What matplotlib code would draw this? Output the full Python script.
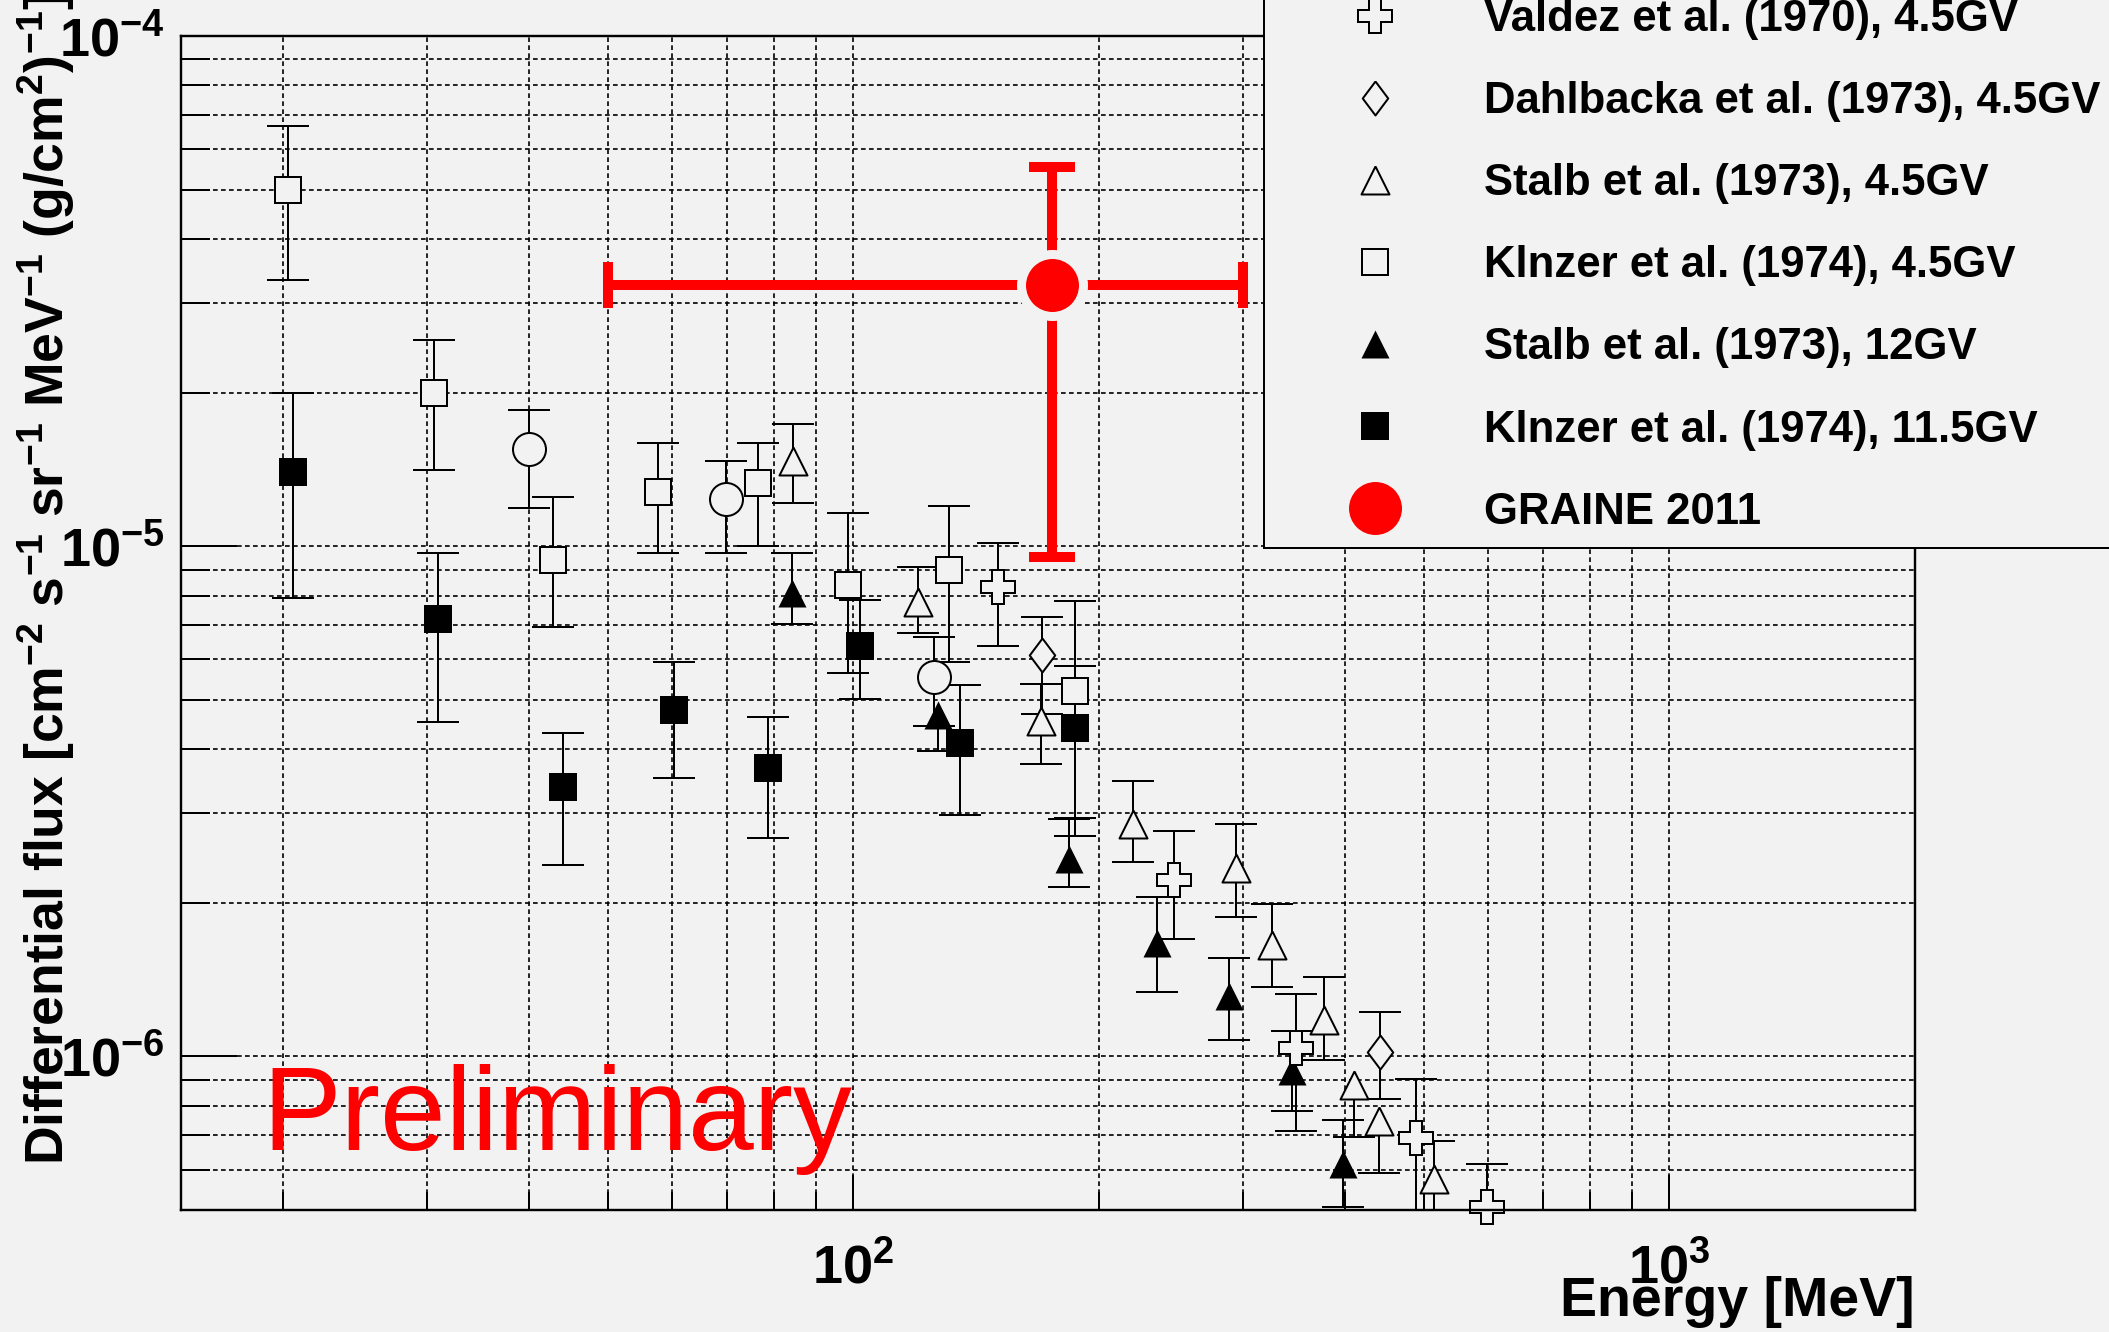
import numpy as np
import matplotlib
matplotlib.use("Agg")
import matplotlib.pyplot as plt
from matplotlib.markers import MarkerStyle
from matplotlib.ticker import LogLocator, LogFormatterSciNotation, NullFormatter

# ---------------------------------------------------------------- data
# energies in MeV, fluxes in cm^-2 s^-1 sr^-1 MeV^-1 (g/cm^2)^-1
# each series: central value, upper and lower end of the error bar

valdez_E = [150.6, 247.4, 348.5, 489.8, 598.3]
valdez_F = [8.31e-6, 2.22e-6, 1.04e-6, 6.91e-7, 5.07e-7]
valdez_hi = [1.014e-5, 2.76e-6, 1.323e-6, 9.04e-7, 6.14e-7]
valdez_lo = [6.37e-6, 1.696e-6, 7.13e-7, 4.0e-7, 4.0e-7]

dahl_E = [170.4, 442.1]
dahl_F = [6.11e-6, 1.02e-6]
dahl_hi = [7.25e-6, 1.22e-6]
dahl_lo = [4.70e-6, 8.26e-7]

stalb45_E = [84.4, 120.0, 170.0, 220.4, 294.8, 326.2, 377.7, 411.1, 441.2, 515.2]
stalb45_F = [1.468e-5, 7.78e-6, 4.54e-6, 2.86e-6, 2.34e-6, 1.65e-6, 1.177e-6,
             8.77e-7, 7.46e-7, 5.76e-7]
stalb45_hi = [1.735e-5, 9.10e-6, 5.36e-6, 3.46e-6, 2.85e-6, 1.99e-6, 1.43e-6,
              8.77e-7, 7.46e-7, 6.84e-7]
stalb45_lo = [1.214e-5, 6.75e-6, 3.75e-6, 2.40e-6, 1.88e-6, 1.37e-6, 9.82e-7,
              6.94e-7, 5.91e-7, 4.0e-7]

kinzer45_E = [20.3, 30.6, 42.8, 57.7, 76.4, 98.6, 131.0, 187.0]
kinzer45_F = [5.0e-5, 2.0e-5, 9.4e-6, 1.28e-5, 1.33e-5, 8.4e-6, 9.0e-6, 5.2e-6]
kinzer45_hi = [6.66e-5, 2.54e-5, 1.25e-5, 1.59e-5, 1.59e-5, 1.16e-5, 1.20e-5, 7.8e-6]
kinzer45_lo = [3.32e-5, 1.41e-5, 6.95e-6, 9.7e-6, 1.0e-5, 5.64e-6, 5.92e-6, 2.7e-6]

stalb12_E = [84.0, 127.0, 183.9, 235.8, 288.9, 345.1, 398.6]
stalb12_F = [8.10e-6, 4.66e-6, 2.44e-6, 1.67e-6, 1.311e-6, 9.35e-7, 6.14e-7]
stalb12_hi = [9.69e-6, 4.66e-6, 2.92e-6, 2.05e-6, 1.56e-6, 1.12e-6, 7.49e-7]
stalb12_lo = [7.03e-6, 3.96e-6, 2.15e-6, 1.335e-6, 1.075e-6, 7.8e-7, 5.07e-7]

kinzer115_E = [20.6, 31.0, 44.1, 60.3, 78.5, 102.0, 135.0, 187.0]
kinzer115_F = [1.40e-5, 7.2e-6, 3.37e-6, 4.77e-6, 3.67e-6, 6.37e-6, 4.11e-6, 4.40e-6]
kinzer115_hi = [2.0e-5, 9.7e-6, 4.3e-6, 5.92e-6, 4.62e-6, 7.84e-6, 5.34e-6, 5.82e-6]
kinzer115_lo = [7.93e-6, 4.52e-6, 2.37e-6, 3.52e-6, 2.68e-6, 5.01e-6, 2.97e-6, 2.93e-6]

circ_E = [40.0, 69.9, 125.7]
circ_F = [1.55e-5, 1.24e-5, 5.53e-6]
circ_hi = [1.85e-5, 1.47e-5, 6.63e-6]
circ_lo = [1.19e-5, 9.7e-6, 4.44e-6]

graine_E = 175.0
graine_E_lo, graine_E_hi = 50.0, 300.0
graine_F = 3.25e-5
graine_F_lo, graine_F_hi = 9.52e-6, 5.53e-5

labels = {
    "valdez": "Valdez et al. (1970), 4.5GV",
    "dahl": "Dahlbacka et al. (1973), 4.5GV",
    "stalb45": "Stalb et al. (1973), 4.5GV",
    "kinzer45": "Klnzer et al. (1974), 4.5GV",
    "stalb12": "Stalb et al. (1973), 12GV",
    "kinzer115": "Klnzer et al. (1974), 11.5GV",
    "graine": "GRAINE 2011",
}

x_limits = (15, 2000)
y_limits = (5e-7, 1e-4)

# ---------------------------------------------------------------- style
BG = "#f2f2f2"
RED = "#ff0000"
PX = 72.0 / 100.0          # one pixel in points at dpi=100

plt.rcParams["font.family"] = ["Liberation Sans", "DejaVu Sans"]
plt.rcParams["font.weight"] = "bold"
plt.rcParams["mathtext.default"] = "regular"
plt.rcParams["axes.unicode_minus"] = True

TRI = [(0, 0.5), (0.5, -0.5), (-0.5, -0.5), (0, 0.5)]
DIAM = [(0, 0.5), (0.375, 0), (0, -0.5), (-0.375, 0), (0, 0.5)]

ERR_LW = 2 * PX
CAP_LEN = 43 * PX
EDGE = 2 * PX

fig = plt.figure(figsize=(21.09, 13.32), dpi=100, facecolor=BG)
ax = fig.add_axes([181 / 2109, 1 - 1210 / 1332, (1915 - 181) / 2109, (1210 - 36) / 1332])
ax.set_facecolor(BG)
ax.set_xscale("log")
ax.set_yscale("log")
ax.set_xlim(*x_limits)
ax.set_ylim(*y_limits)


def error_bars(E, F, lo, hi):
    E, F, lo, hi = map(np.asarray, (E, F, lo, hi))
    ax.vlines(E, lo, F, colors="k", lw=ERR_LW, zorder=2)
    ax.vlines(E, F, hi, colors="k", lw=ERR_LW, zorder=2)
    up = hi > F
    dn = lo < F
    ax.plot(E[up], hi[up], ls="none", marker="_", ms=CAP_LEN, mew=ERR_LW,
            color="k", zorder=2)
    ax.plot(E[dn], lo[dn], ls="none", marker="_", ms=CAP_LEN, mew=ERR_LW,
            color="k", zorder=2)


def points(E, F, marker, size_px, filled, label=None):
    if filled:
        kw = dict(mfc="k", mec="k", mew=0)
    else:
        kw = dict(mfc=BG, mec="k", mew=EDGE)
    (h,) = ax.plot(E, F, ls="none", marker=marker, ms=size_px * PX,
                   zorder=3, clip_on=False, label=label, **kw)
    return h


series = [
    (kinzer45_E, kinzer45_F, kinzer45_lo, kinzer45_hi),
    (kinzer115_E, kinzer115_F, kinzer115_lo, kinzer115_hi),
    (circ_E, circ_F, circ_lo, circ_hi),
    (stalb45_E, stalb45_F, stalb45_lo, stalb45_hi),
    (stalb12_E, stalb12_F, stalb12_lo, stalb12_hi),
    (valdez_E, valdez_F, valdez_lo, valdez_hi),
    (dahl_E, dahl_F, dahl_lo, dahl_hi),
]
for E, F, lo, hi in series:
    error_bars(E, F, lo, hi)

tri = MarkerStyle(TRI, joinstyle="miter")
diam = MarkerStyle(DIAM, joinstyle="miter")
sq = MarkerStyle("s", joinstyle="miter")
cross = MarkerStyle("P", joinstyle="miter")

h_k45 = points(kinzer45_E, kinzer45_F, sq, 25.5, False, labels["kinzer45"])
h_k115 = points(kinzer115_E, kinzer115_F, sq, 27.5, True, labels["kinzer115"])
points(circ_E, circ_F, "o", 33, False)
h_s45 = points(stalb45_E, stalb45_F, tri, 28, False, labels["stalb45"])
h_s12 = points(stalb12_E, stalb12_F, tri, 28, True, labels["stalb12"])
h_val = points(valdez_E, valdez_F, cross, 34, False, labels["valdez"])
h_dahl = points(dahl_E, dahl_F, diam, 34, False, labels["dahl"])

# GRAINE 2011 point with its energy range and flux error
ax.hlines(graine_F, graine_E_lo, graine_E_hi, colors=RED, lw=10 * PX, zorder=4)
ax.vlines(graine_E, graine_F_lo, graine_F_hi, colors=RED, lw=10 * PX, zorder=4)
ax.plot([graine_E_lo, graine_E_hi], [graine_F, graine_F], ls="none", marker="|",
        ms=46 * PX, mew=10 * PX, color=RED, zorder=4)
ax.plot([graine_E, graine_E], [graine_F_lo, graine_F_hi], ls="none", marker="_",
        ms=46 * PX, mew=10 * PX, color=RED, zorder=4)
(h_gr,) = ax.plot([graine_E], [graine_F], ls="none", marker="o", ms=62 * PX,
                  mfc=RED, mec=BG, mew=9 * PX, zorder=5, label=labels["graine"])

# ---------------------------------------------------------------- axes
ax.xaxis.set_major_locator(LogLocator(base=10))
ax.xaxis.set_minor_locator(LogLocator(base=10, subs=np.arange(2, 10)))
ax.yaxis.set_major_locator(LogLocator(base=10))
ax.yaxis.set_minor_locator(LogLocator(base=10, subs=np.arange(2, 10)))
ax.xaxis.set_major_formatter(LogFormatterSciNotation())
ax.yaxis.set_major_formatter(LogFormatterSciNotation())
ax.xaxis.set_minor_formatter(NullFormatter())
ax.yaxis.set_minor_formatter(NullFormatter())

ax.set_axisbelow(True)
ax.grid(True, which="both", color="k", lw=1.2, ls=(0, (2.8, 2.0)))

ax.tick_params(axis="y", which="major", direction="in", length=56 * PX,
               width=EDGE, left=True, right=False, labelsize=39, pad=12)
ax.tick_params(axis="y", which="minor", direction="in", length=29 * PX,
               width=EDGE, left=True, right=False)
ax.tick_params(axis="x", which="major", direction="in", length=35 * PX,
               width=EDGE, bottom=True, top=False, labelsize=39, pad=24)
ax.tick_params(axis="x", which="minor", direction="in", length=18 * PX,
               width=EDGE, bottom=True, top=False)
for s in ax.spines.values():
    s.set_linewidth(2.4 * PX)
    s.set_zorder(6)

fig.text(1915 / 2109, 1 - 1316 / 1332, "Energy [MeV]", ha="right",
         va="baseline", fontsize=40, fontweight="bold")
fig.text(77 / 2109, 1 - 1165 / 1332,
         r"Differential flux [cm$^{-2}$ s$^{-1}$ sr$^{-1}$ MeV$^{-1}$ (g/cm$^{2}$)$^{-1}$]",
         rotation=90, ha="right", va="bottom", fontsize=38.5, fontweight="bold")

fig.text(262 / 2109, 1 - 1150 / 1332, "Preliminary", color=RED, fontsize=85,
         fontweight="normal", ha="left", va="baseline")

# ---------------------------------------------------------------- legend
leg = ax.legend(
    handles=[h_val, h_dahl, h_s45, h_k45, h_s12, h_k115, h_gr],
    loc="lower left",
    bbox_to_anchor=(1264 / 2109, 1 - 548 / 1332),
    bbox_transform=fig.transFigure,
    borderaxespad=0,
    numpoints=1,
    prop={"weight": "bold", "size": 31.5},
    frameon=True,
    fancybox=False,
    framealpha=1,
    facecolor=BG,
    edgecolor="k",
    borderpad=0.35,
    labelspacing=0.94,
    handlelength=4.375,
    handletextpad=0.30,
)
leg.get_frame().set_linewidth(2 * PX)
leg.set_zorder(10)

fig.savefig("out.png", dpi=100, facecolor=BG)
